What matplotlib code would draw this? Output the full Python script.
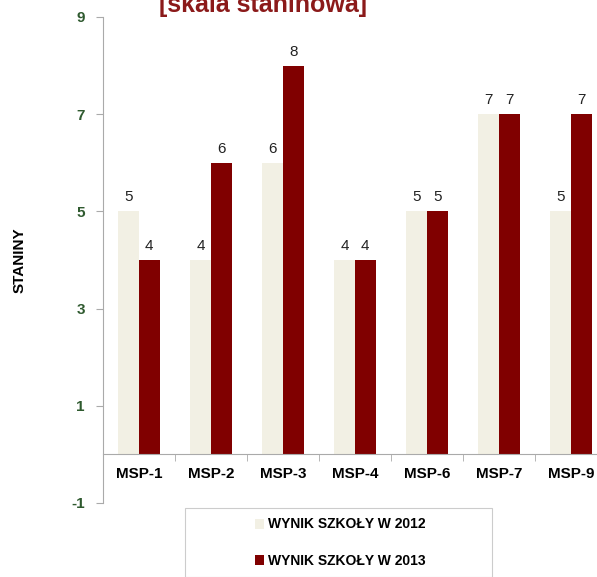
import numpy as np
import matplotlib.pyplot as plt
from matplotlib.patches import Rectangle

plt.rcParams['font.family'] = ['Liberation Sans', 'DejaVu Sans']

categories = ['MSP-1', 'MSP-2', 'MSP-3', 'MSP-4', 'MSP-6', 'MSP-7', 'MSP-9']
wynik_2012 = [5, 4, 6, 4, 5, 7, 5]
wynik_2013 = [4, 6, 8, 4, 5, 7, 7]
labels = ['WYNIK SZKOŁY W 2012', 'WYNIK SZKOŁY W 2013']
yticks = [-1, 1, 3, 5, 7, 9]

c2012 = '#F2F0E4'
c2013 = '#800000'

fig = plt.figure(figsize=(5.97, 5.77), dpi=100)
ax = fig.add_axes([103 / 597, 74 / 577, 504 / 597, 486 / 577])

x = np.arange(len(categories)) + 0.5
w = 0.285
b1 = ax.bar(x - w / 2, wynik_2012, w, color=c2012, label=labels[0])
b2 = ax.bar(x + w / 2, wynik_2013, w, color=c2013, label=labels[1])

for bars in (b1, b2):
    for r in bars:
        ax.annotate(str(int(r.get_height())), (r.get_x() + r.get_width() / 2, r.get_height()),
                    xytext=(0, 5), textcoords='offset points', ha='center', va='bottom',
                    fontsize=11, color='#222222')

ax.set_xlim(0, len(categories))
ax.set_ylim(-1, 9)
ax.set_yticks(yticks)
ax.set_yticklabels([str(t) for t in yticks], fontweight='bold', color='#2F5A2F', fontsize=11)
ax.tick_params(axis='y', length=5, color='#AAAAAA', pad=8)

ax.spines['bottom'].set_position(('data', 0))
for s in ('top', 'right'):
    ax.spines[s].set_visible(False)
ax.spines['left'].set_color('#AAAAAA')
ax.spines['bottom'].set_color('#AAAAAA')

ax.set_xticks(x)
ax.set_xticklabels(categories, fontweight='bold', fontsize=11)
ax.tick_params(axis='x', which='major', length=0, pad=9)
ax.set_xticks(np.arange(len(categories) + 1), minor=True)
ax.tick_params(axis='x', which='minor', length=5, color='#AAAAAA', direction='out')

fig.text(20 / 597, 1 - 260 / 577, 'STANINY', rotation=90, ha='center', va='center',
         fontsize=11, fontweight='bold')

fig.text(263 / 597, 1 - 12 / 577, '[skala staninowa]', ha='center', va='baseline',
         fontsize=18, fontweight='bold', color='#8B1A1A')

fig.patches.append(Rectangle((185 / 597, 0), 307 / 597, 1 - 508 / 577,
                             transform=fig.transFigure, fill=False, edgecolor='#CCCCCC', lw=0.8))
fig.legend(handles=[b1, b2], labels=labels, loc='upper left',
           bbox_to_anchor=(242 / 597, 1 - 505 / 577), frameon=False,
           prop={'weight': 'bold', 'size': 10}, handlelength=0.7, handleheight=0.7,
           handletextpad=0.3, labelspacing=1.6)

fig.savefig('out.png', dpi=100)
